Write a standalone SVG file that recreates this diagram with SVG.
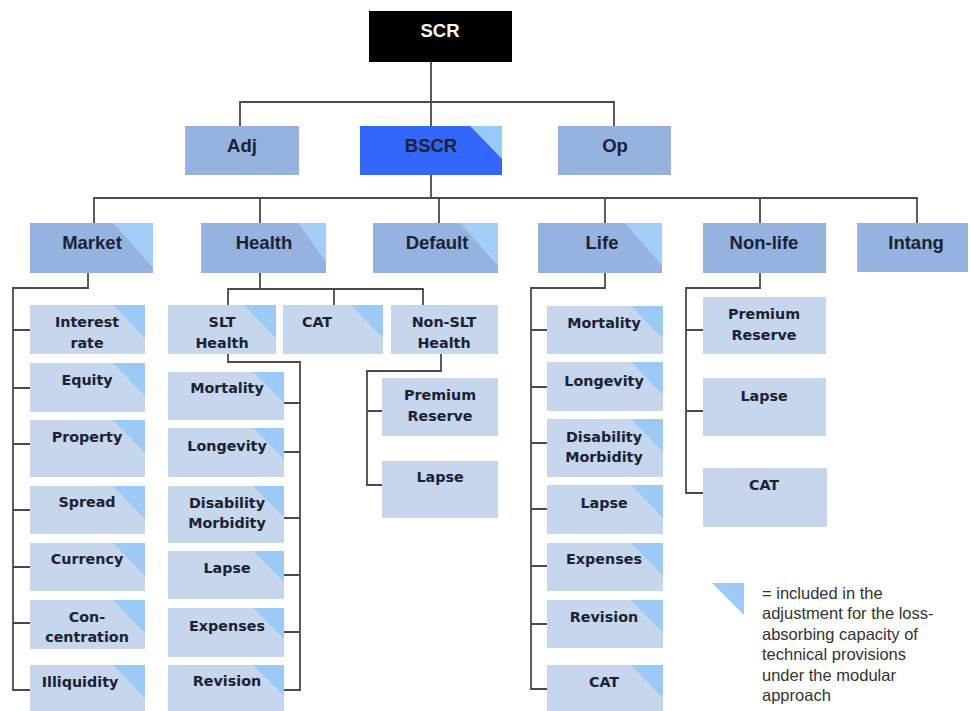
<svg xmlns="http://www.w3.org/2000/svg" width="971" height="711" viewBox="0 0 971 711">
<style>
.bg{fill:#ffffff}
.top{fill:#95b3de}
.child{fill:#c6d6ec}
.tri{fill:#a3ccf6}
.ctri{fill:#9ccaf6}
.conn{fill:none;stroke:#4a4a4a;stroke-width:1.8}
.t1{font-family:"Liberation Sans",Arial,sans-serif;font-weight:bold;font-size:18.5px;fill:#1b2233;text-anchor:middle}
.t2{font-family:"DejaVu Sans",Verdana,sans-serif;font-weight:bold;font-size:14.3px;fill:#1b2233;text-anchor:middle}
.leg{font-family:"Liberation Sans",Arial,sans-serif;font-size:16.5px;fill:#333333}
</style>
<rect class="bg" x="0" y="0" width="971" height="711"/>
<g id="connectors">
<path class="conn" d="M431,62 V126 M240,126 V102 H614 V126"/>
<path class="conn" d="M431,175 V198 M94,223 V198 H917 V223 M260,198 V223 M439,198 V223 M605,198 V223 M760,198 V223"/>
<path class="conn" d="M88,273 V288 H13 V690 H30 M13,330 H30 M13,388 H30 M13,444 H30 M13,510 H30 M13,567 H30 M13,623 H30"/>
<path class="conn" d="M260,273 V289 M228,305 V289 H423 V305 M334,289 V305"/>
<path class="conn" d="M228,354 V362 H300 V690 H284 M284,403 H300 M284,452 H300 M284,518 H300 M284,575 H300 M284,632 H300"/>
<path class="conn" d="M441,354 V371 H367 V485 H382 M367,411 H382"/>
<path class="conn" d="M605,273 V288 H531 V689 H547 M531,330 H547 M531,387 H547 M531,443 H547 M531,509 H547 M531,566 H547 M531,624 H547"/>
<path class="conn" d="M760,273 V288 H686 V493 H703 M686,330 H703 M686,411 H703"/>
</g>
<g id="SCR"><rect x="369" y="11" width="143" height="51" fill="#000000"/><text class="t1" x="440" y="36.5" fill="#ffffff" style="fill:#ffffff">SCR</text></g>
<g id="Adj"><rect class="top" x="185" y="126" width="114" height="49"/><text class="t1" x="242" y="151.5">Adj</text></g>
<g id="BSCR"><rect x="360" y="126" width="142" height="49" fill="#3366fa"/><polygon points="470,126 502,126 502,159" fill="#99c8fa"/><text class="t1" x="431" y="151.5">BSCR</text></g>
<g id="Op"><rect class="top" x="558" y="126" width="113" height="49"/><text class="t1" x="615" y="151.5">Op</text></g>
<g id="Market"><rect class="top" x="30" y="223" width="123" height="50"/><polygon class="tri" points="113,223 153,223 153,268"/><text class="t1" x="92" y="248.5">Market</text></g>
<g id="Health"><rect class="top" x="201" y="223" width="125" height="50"/><polygon class="tri" points="298,223 326,223 326,262"/><text class="t1" x="264" y="248.5">Health</text></g>
<g id="Default"><rect class="top" x="373" y="223" width="125" height="50"/><polygon class="tri" points="460,223 498,223 498,266"/><text class="t1" x="437" y="248.5">Default</text></g>
<g id="Life"><rect class="top" x="538" y="223" width="124" height="50"/><polygon class="tri" points="625,223 662,223 662,266"/><text class="t1" x="602" y="248.5">Life</text></g>
<g id="Nonlife"><rect class="top" x="703" y="223" width="123" height="50"/><text class="t1" x="764" y="248.5">Non-life</text></g>
<g id="Intang"><rect class="top" x="857" y="223" width="111" height="49"/><text class="t1" x="916" y="248.5">Intang</text></g>
<g id="m-interest"><rect class="child" x="30" y="305" width="115" height="49"/><polygon class="ctri" points="113,305 145,305 145,338"/><text class="t2" x="87" y="327">Interest</text><text class="t2" x="87" y="348">rate</text></g>
<g id="m-equity"><rect class="child" x="30" y="363" width="115" height="49"/><polygon class="ctri" points="113,363 145,363 145,396"/><text class="t2" x="87" y="385">Equity</text></g>
<g id="m-property"><rect class="child" x="30" y="420" width="115" height="57"/><polygon class="ctri" points="113,420 145,420 145,453"/><text class="t2" x="87" y="442">Property</text></g>
<g id="m-spread"><rect class="child" x="30" y="486" width="115" height="48"/><polygon class="ctri" points="113,486 145,486 145,519"/><text class="t2" x="87" y="507">Spread</text></g>
<g id="m-currency"><rect class="child" x="30" y="543" width="115" height="48"/><polygon class="ctri" points="113,543 145,543 145,576"/><text class="t2" x="87" y="564">Currency</text></g>
<g id="m-concentration"><rect class="child" x="30" y="600" width="115" height="49"/><polygon class="ctri" points="113,600 145,600 145,633"/><text class="t2" x="87" y="622">Con-</text><text class="t2" x="87" y="642">centration</text></g>
<g id="m-illiquidity"><rect class="child" x="30" y="665" width="115" height="46"/><polygon class="ctri" points="113,665 145,665 145,698"/><text class="t2" x="80" y="687">Illiquidity</text></g>
<g id="h-slt"><rect class="child" x="168" y="305" width="108" height="49"/><polygon class="ctri" points="244,305 276,305 276,338"/><text class="t2" x="222" y="327">SLT</text><text class="t2" x="222" y="348">Health</text></g>
<g id="h-cat"><rect class="child" x="283" y="305" width="100" height="49"/><polygon class="ctri" points="351,305 383,305 383,338"/><text class="t2" x="317" y="327">CAT</text></g>
<g id="h-nonslt"><rect class="child" x="391" y="305" width="107" height="49"/><text class="t2" x="444" y="327">Non-SLT</text><text class="t2" x="444" y="348">Health</text></g>
<g id="s-mortality"><rect class="child" x="168" y="372" width="116" height="48"/><polygon class="ctri" points="253,372 284,372 284,403"/><text class="t2" x="227" y="393">Mortality</text></g>
<g id="s-longevity"><rect class="child" x="168" y="428" width="116" height="49"/><polygon class="ctri" points="253,428 284,428 284,459"/><text class="t2" x="227" y="451">Longevity</text></g>
<g id="s-disability"><rect class="child" x="168" y="486" width="116" height="57"/><polygon class="ctri" points="253,486 284,486 284,517"/><text class="t2" x="227" y="508">Disability</text><text class="t2" x="227" y="528">Morbidity</text></g>
<g id="s-lapse"><rect class="child" x="168" y="551" width="116" height="48"/><polygon class="ctri" points="253,551 284,551 284,582"/><text class="t2" x="227" y="573">Lapse</text></g>
<g id="s-expenses"><rect class="child" x="168" y="608" width="116" height="49"/><polygon class="ctri" points="253,608 284,608 284,639"/><text class="t2" x="227" y="631">Expenses</text></g>
<g id="s-revision"><rect class="child" x="168" y="665" width="116" height="46"/><polygon class="ctri" points="253,665 284,665 284,696"/><text class="t2" x="227" y="686">Revision</text></g>
<g id="n-premium"><rect class="child" x="382" y="378" width="116" height="58"/><text class="t2" x="440" y="400">Premium</text><text class="t2" x="440" y="421">Reserve</text></g>
<g id="n-lapse"><rect class="child" x="382" y="461" width="116" height="57"/><text class="t2" x="440" y="482">Lapse</text></g>
<g id="l-mortality"><rect class="child" x="547" y="306" width="116" height="48"/><polygon class="ctri" points="631,306 663,306 663,339"/><text class="t2" x="604" y="328">Mortality</text></g>
<g id="l-longevity"><rect class="child" x="547" y="362" width="116" height="49"/><polygon class="ctri" points="631,362 663,362 663,395"/><text class="t2" x="604" y="386">Longevity</text></g>
<g id="l-disability"><rect class="child" x="547" y="419" width="116" height="58"/><polygon class="ctri" points="631,419 663,419 663,452"/><text class="t2" x="604" y="442">Disability</text><text class="t2" x="604" y="462">Morbidity</text></g>
<g id="l-lapse"><rect class="child" x="547" y="485" width="116" height="49"/><polygon class="ctri" points="631,485 663,485 663,518"/><text class="t2" x="604" y="508">Lapse</text></g>
<g id="l-expenses"><rect class="child" x="547" y="543" width="116" height="48"/><polygon class="ctri" points="631,543 663,543 663,576"/><text class="t2" x="604" y="564">Expenses</text></g>
<g id="l-revision"><rect class="child" x="547" y="600" width="116" height="48"/><polygon class="ctri" points="631,600 663,600 663,633"/><text class="t2" x="604" y="622">Revision</text></g>
<g id="l-cat"><rect class="child" x="547" y="665" width="116" height="46"/><polygon class="ctri" points="631,665 663,665 663,698"/><text class="t2" x="604" y="687">CAT</text></g>
<g id="nl-premium"><rect class="child" x="703" y="297" width="123" height="57"/><text class="t2" x="764" y="319">Premium</text><text class="t2" x="764" y="340">Reserve</text></g>
<g id="nl-lapse"><rect class="child" x="703" y="378" width="123" height="58"/><text class="t2" x="764" y="401">Lapse</text></g>
<g id="nl-cat"><rect class="child" x="703" y="468" width="124" height="59"/><text class="t2" x="764" y="490">CAT</text></g>
<g id="legend"><polygon points="712,583 744,583 744,615" fill="#9ccaf6"/>
<text class="leg" x="762" y="599">= included in the</text>
<text class="leg" x="762" y="619">adjustment for the loss-</text>
<text class="leg" x="762" y="640">absorbing capacity of</text>
<text class="leg" x="762" y="660">technical provisions</text>
<text class="leg" x="762" y="681">under the modular</text>
<text class="leg" x="762" y="701">approach</text></g>
</svg>
